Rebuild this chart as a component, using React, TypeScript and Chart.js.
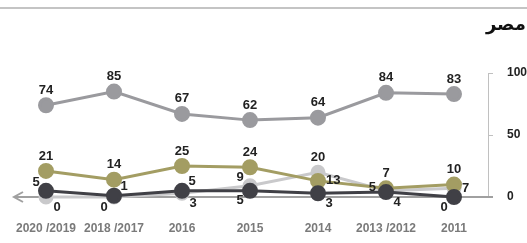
import React, { useEffect, useRef } from "react";
import { Chart, registerables } from "chart.js";

Chart.register(...registerables);

const TITLE = "مصر";
const CATEGORIES = ["2011", "2013 /2012", "2014", "2015", "2016", "2018 /2017", "2020 /2019"];
const SERIES_GREY = [83, 84, 64, 62, 67, 85, 74];
const SERIES_OLIVE = [10, 7, 13, 24, 25, 14, 21];
const SERIES_LIGHT = [7, 5, 20, 9, 3, 0, 0];
const SERIES_DARK = [0, 4, 3, 5, 5, 1, 5];
const Y_TICKS = [0, 50, 100];

// label placement per point (style only)
const PLACE_GREY = ["top", "top", "top", "top", "top", "top", "top"];
const PLACE_OLIVE = ["top", "top", "right", "top", "top", "top", "top"];
const PLACE_LIGHT = ["right", "left", "top", "top-left", "bottom-right", "bottom-left", "bottom-right"];
const PLACE_DARK = ["bottom-left", "bottom-right", "bottom-right", "bottom-left", "top-right", "top-right", "top-left"];

const labelPlugin = {
  id: "pointLabels",
  afterDatasetsDraw(chart: any) {
    const ctx = chart.ctx;
    ctx.save();
    ctx.font = "bold 13px 'Liberation Sans', Arial, sans-serif";
    ctx.fillStyle = "#222222";
    ctx.textBaseline = "middle";
    chart.data.datasets.forEach((ds: any, di: number) => {
      const meta = chart.getDatasetMeta(di);
      meta.data.forEach((pt: any, i: number) => {
        const place = ds.places[i];
        let dx = 0, dy = 0, align: CanvasTextAlign = "center";
        switch (place) {
          case "top": dy = -15; break;
          case "right": dx = 8; align = "left"; break;
          case "left": dx = -10; dy = -3; align = "right"; break;
          case "top-left": dx = -10; dy = -8; break;
          case "top-right": dx = 10; dy = -9; break;
          case "bottom-left": dx = -10; dy = 10; break;
          case "bottom-right": dx = 11; dy = 10; break;
        }
        ctx.textAlign = align;
        ctx.fillText(String(ds.data[i]), pt.x + dx, pt.y + dy);
      });
    });
    ctx.restore();
  },
};

const decorPlugin = {
  id: "decor",
  beforeDatasetsDraw(chart: any) {
    const ctx = chart.ctx;
    const area = chart.chartArea;
    const y0 = chart.scales.y.getPixelForValue(0);
    ctx.save();
    // top rule
    ctx.fillStyle = "#c4c4c4";
    ctx.fillRect(0, 7, chart.width, 2);
    // x axis arrow
    ctx.strokeStyle = "#a0a0a0";
    ctx.lineWidth = 2;
    ctx.beginPath();
    ctx.moveTo(14, y0);
    ctx.lineTo(area.right + 5, y0);
    ctx.stroke();
    ctx.beginPath();
    ctx.moveTo(23, y0 - 5);
    ctx.lineTo(14, y0);
    ctx.lineTo(23, y0 + 5);
    ctx.stroke();
    ctx.restore();
  },
  afterDraw(chart: any) {
    const ctx = chart.ctx;
    ctx.save();
    ctx.font = "bold 18px 'DejaVu Sans', sans-serif";
    ctx.fillStyle = "#111111";
    ctx.textAlign = "right";
    ctx.textBaseline = "middle";
    ctx.direction = "rtl";
    ctx.fillText(TITLE, 526, 25);
    ctx.restore();
  },
};

export default function App() {
  const ref = useRef<HTMLCanvasElement>(null);
  useEffect(() => {
    const canvas = ref.current!;
    const mk = (label: string, data: number[], color: string, places: string[], order: number, r = 6.5) => ({
      label,
      data,
      places,
      order,
      borderColor: color,
      backgroundColor: color,
      pointBackgroundColor: color,
      pointBorderColor: color,
      pointRadius: r,
      pointHoverRadius: r,
      borderWidth: 3,
      tension: 0,
      clip: false as any,
    });
    const chart = new Chart(canvas, {
      type: "line",
      data: {
        labels: CATEGORIES,
        datasets: [
          mk("grey", SERIES_GREY, "#9a9a9e", PLACE_GREY, 1),
          mk("dark", SERIES_DARK, "#404046", PLACE_DARK, 2),
          mk("olive", SERIES_OLIVE, "#a39d63", PLACE_OLIVE, 3),
          mk("light", SERIES_LIGHT, "#c9c9cb", PLACE_LIGHT, 4, 6),
        ] as any,
      },
      options: {
        responsive: false,
        animation: false,
        layout: { padding: { left: 12, top: 73, right: 0, bottom: 0 } },
        plugins: { legend: { display: false }, tooltip: { enabled: false }, title: { display: false } },
        scales: {
          x: {
            type: "category",
            reverse: true,
            offset: true,
            grid: { display: false, drawTicks: false },
            border: { display: false },
            ticks: {
              color: "#7a7a7a",
              font: { family: "'Liberation Sans', Arial, sans-serif", size: 12, weight: "bold" },
              padding: 24,
              maxRotation: 0,
              autoSkip: false,
            },
            afterFit: (s: any) => { s.height = 46; },
          },
          y: {
            position: "right",
            min: 0,
            max: 100,
            afterBuildTicks: (s: any) => { s.ticks = Y_TICKS.map((v) => ({ value: v })); },
            grid: { drawOnChartArea: false, color: "#c0c0c0", tickLength: 5, lineWidth: 1 },
            border: { display: true, color: "#c0c0c0", width: 1 },
            ticks: {
              color: "#222222",
              font: { family: "'Liberation Sans', Arial, sans-serif", size: 12, weight: "bold" },
              padding: 14,
            },
            afterFit: (s: any) => { s.width = 39; },
          },
        },
      } as any,
      plugins: [decorPlugin, labelPlugin],
    });
    return () => chart.destroy();
  }, []);
  return (
    <div style={{ position: "absolute", left: 0, top: 0, width: 527, height: 243, background: "#fff", overflow: "hidden" }}>
      <canvas ref={ref} width={527} height={243} style={{ width: 527, height: 243, display: "block" }} />
    </div>
  );
}
